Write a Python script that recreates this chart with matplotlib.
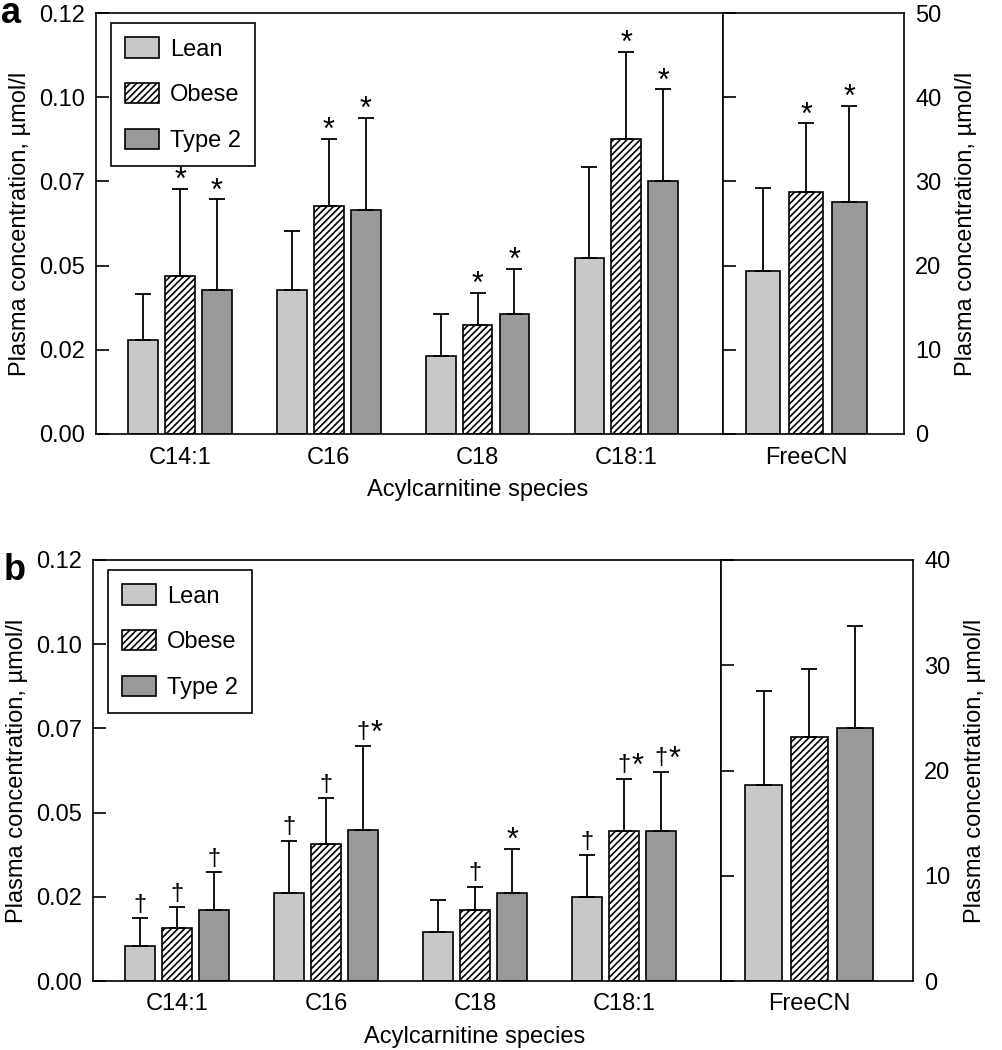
import matplotlib
matplotlib.use("Agg")
import matplotlib.pyplot as plt
import numpy as np

plt.rcParams['font.family'] = ['Liberation Sans', 'DejaVu Sans']
plt.rcParams['hatch.linewidth'] = 1.2

# categories
species = ['C14:1', 'C16', 'C18', 'C18:1']
free_label = 'FreeCN'
groups = ['Lean', 'Obese', 'Type 2']

# panel a: acylcarnitines (umol/l), bar height and upper SD
a_lean = [0.0269, 0.0410, 0.0222, 0.0502]
a_lean_sd = [0.0129, 0.0170, 0.0121, 0.0259]
a_obese = [0.0450, 0.0650, 0.0312, 0.0841]
a_obese_sd = [0.0249, 0.0192, 0.0090, 0.0249]
a_t2 = [0.0410, 0.0639, 0.0343, 0.0721]
a_t2_sd = [0.0259, 0.0262, 0.0128, 0.0261]
# panel a: free carnitine (lean, obese, type 2)
a_free = [19.4, 28.8, 27.5]
a_free_sd = [9.8, 8.1, 11.5]

# panel b
b_lean = [0.0101, 0.0251, 0.0141, 0.0240]
b_lean_sd = [0.0078, 0.0149, 0.0089, 0.0118]
b_obese = [0.0151, 0.0390, 0.0201, 0.0427]
b_obese_sd = [0.0059, 0.0131, 0.0068, 0.0149]
b_t2 = [0.0201, 0.0430, 0.0250, 0.0427]
b_t2_sd = [0.0109, 0.0240, 0.0127, 0.0169]
b_free = [18.6, 23.2, 24.0]
b_free_sd = [9.0, 6.4, 9.7]

# significance marks
a_marks = [['', '', '', ''], ['*', '*', '*', '*'], ['*', '*', '*', '*']]
a_free_marks = ['', '*', '*']
b_marks = [['†', '†', '', '†'], ['†', '†', '†', '†*'], ['†', '†*', '*', '†*']]
b_free_marks = ['', '', '']

colors = ['#c8c8c8', 'white', '#999999']
hatches = ['', '/////', '']
FS = 17
FS_DAG = 17
FS_AST = 22
ylab = 'Plasma concentration, \u00b5mol/l'


def put_mark(ax, x, y, mark):
    # dagger centred on the error bar, asterisk next to it
    if mark == '':
        return
    if mark == '*':
        ax.annotate('*', (x, y), xytext=(0, -0.3), textcoords='offset points',
                    ha='center', va='baseline', fontsize=FS_AST)
        return
    ax.annotate('†', (x, y), xytext=(0, 5.4), textcoords='offset points',
                ha='center', va='baseline', fontsize=FS_DAG)
    if mark == '†*':
        ax.annotate('*', (x, y), xytext=(5.5, 2.6), textcoords='offset points',
                    ha='left', va='baseline', fontsize=FS_AST)


def bars(ax, xc, vals, sds, width, step, marks):
    for i in range(3):
        x = np.asarray(xc) + (i - 1) * step
        v = np.asarray(vals[i])
        s = np.asarray(sds[i])
        ax.bar(x, v, width, color=colors[i], hatch=hatches[i], edgecolor='black',
               linewidth=1.2, zorder=2, label=groups[i])
        ax.errorbar(x, v, yerr=[np.zeros_like(s), s], fmt='none', ecolor='black',
                    elinewidth=1.3, capsize=6, capthick=1.3, zorder=3)
        for xi, top, m in zip(x, v + s, marks[i]):
            put_mark(ax, xi, top, m)


def panel(rect_main, rect_free, means, sds, marks, fmeans, fsds, fmarks, fmax, letter, letter_y, letter_x):
    ax = fig.add_axes(rect_main)
    xc = np.arange(len(species))
    bars(ax, xc, means, sds, 0.20, 0.248, marks)
    ax.set_xlim(-0.565, 3.65)
    ax.set_ylim(0, 0.12)
    yt = [0, 0.024, 0.048, 0.072, 0.096, 0.12]
    ax.set_yticks(yt)
    ax.set_yticklabels(['%.2f' % t for t in yt])
    ax.set_xticks(xc)
    ax.set_xticklabels(species)
    ax.tick_params(axis='y', direction='in', length=9, width=1.2, pad=8, labelsize=FS)
    ax.tick_params(axis='x', length=0, pad=9, labelsize=FS)
    ax.set_ylabel(ylab, fontsize=FS, labelpad=6)
    ax.set_xlabel('Acylcarnitine species', fontsize=FS)
    ax.xaxis.set_label_coords(0.608, -0.108)
    for sp in ax.spines.values():
        sp.set_linewidth(1.2)
    leg = ax.legend(loc='upper left', bbox_to_anchor=(0.024, 0.976), fontsize=FS,
                    fancybox=False, framealpha=1, edgecolor='black', borderaxespad=0,
                    handlelength=1.45, handleheight=0.95, labelspacing=0.95,
                    handletextpad=0.45, borderpad=0.6)
    leg.get_frame().set_linewidth(1.2)

    ax2 = fig.add_axes(rect_free)
    bars(ax2, [0], [[v] for v in fmeans], [[s] for s in fsds], 0.19, 0.238,
         [[m] for m in fmarks])
    ax2.set_xlim(-0.46, 0.54)
    ax2.set_ylim(0, fmax)
    ax2.set_yticks(np.arange(0, fmax + 1, 10))
    ax2.set_xticks([0])
    ax2.set_xticklabels([free_label])
    ax2.tick_params(axis='y', left=True, right=False, labelleft=False, labelright=True,
                    direction='in', length=9, width=1.2, pad=8, labelsize=FS)
    ax2.tick_params(axis='x', length=0, pad=9, labelsize=FS)
    ax2.yaxis.set_label_position('right')
    ax2.set_ylabel(ylab, fontsize=FS, labelpad=10)
    for sp in ax2.spines.values():
        sp.set_linewidth(1.2)
    fig.text(letter_x, letter_y, letter, fontsize=26, fontweight='bold',
             va='baseline', ha='left')


fig = plt.figure(figsize=(10.03, 10.5), dpi=100)

panel([96 / 1003, 616 / 1050, 627 / 1003, 421 / 1050],
      [723 / 1003, 616 / 1050, 181 / 1003, 421 / 1050],
      [a_lean, a_obese, a_t2], [a_lean_sd, a_obese_sd, a_t2_sd], a_marks,
      a_free, a_free_sd, a_free_marks, 50, 'a', 1 - 23 / 1050, 1 / 1003)

panel([93 / 1003, 69 / 1050, 628 / 1003, 421 / 1050],
      [721 / 1003, 69 / 1050, 192 / 1003, 421 / 1050],
      [b_lean, b_obese, b_t2], [b_lean_sd, b_obese_sd, b_t2_sd], b_marks,
      b_free, b_free_sd, b_free_marks, 40, 'b', 1 - 580 / 1050, 4 / 1003)

fig.savefig('out.png', dpi=100)
